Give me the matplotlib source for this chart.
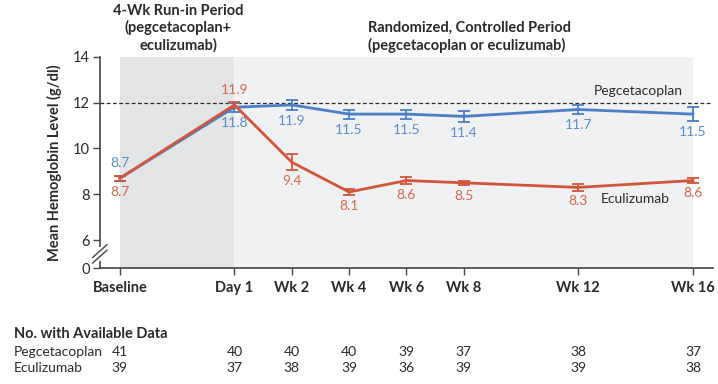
import matplotlib
matplotlib.use("Agg")
import matplotlib.pyplot as plt
from matplotlib.lines import Line2D

plt.rcParams['font.family'] = ['Lato', 'DejaVu Sans']

# weeks relative to day 1 (baseline is 4 weeks before)
weeks = [-4, 0, 2, 4, 6, 8, 12, 16]
tick_labels = ["Baseline", "Day 1", "Wk 2", "Wk 4", "Wk 6", "Wk 8", "Wk 12", "Wk 16"]

peg_mean = [8.7, 11.8, 11.9, 11.5, 11.5, 11.4, 11.7, 11.5]
peg_err = [0.1, 0.2, 0.2, 0.2, 0.2, 0.25, 0.2, 0.3]
ecu_mean = [8.7, 11.9, 9.4, 8.1, 8.6, 8.5, 8.3, 8.6]
ecu_err = [0.1, 0.15, 0.35, 0.15, 0.15, 0.1, 0.15, 0.1]

peg_n = [41, 40, 40, 40, 39, 37, 38, 37]
ecu_n = [39, 37, 38, 39, 36, 39, 39, 38]

BLUE = "#4a7fc6"
RED = "#d2553a"
BLUE_TXT = "#5b8ccc"
RED_TXT = "#d8674c"
DARK = "#2a2a2a"

fig = plt.figure(figsize=(7.18, 3.84), dpi=100)
ax = fig.add_axes([0.139, 0.302, 0.854, 0.55])

y_zero = 4.78  # where the "0" sits below the axis break
ax.set_xlim(-4.7, 16.7)
ax.set_ylim(y_zero, 14)

# shaded periods
ax.axvspan(-4, 0, color="#e3e4e6", lw=0, zorder=0)
ax.axvspan(0, 16, color="#f0f1f3", lw=0, zorder=0)

ax.axhline(12, color=DARK, ls=(0, (3, 2)), lw=0.9, zorder=1)

ax.errorbar(weeks, peg_mean, yerr=peg_err, color=BLUE, lw=2, capsize=4,
            elinewidth=1.3, capthick=1.3, zorder=3)
ax.errorbar(weeks, ecu_mean, yerr=ecu_err, color=RED, lw=2, capsize=4,
            elinewidth=1.3, capthick=1.3, zorder=4)

# value labels
for i, (x, p, e) in enumerate(zip(weeks, peg_mean, ecu_mean)):
    if i == 0:
        ax.text(x, p + 0.4, f"{p}", color=BLUE_TXT, ha="center", va="bottom", fontsize=10)
        ax.text(x, e - 0.35, f"{e}", color=RED_TXT, ha="center", va="top", fontsize=10)
    elif i == 1:
        ax.text(x, e + 0.4, f"{e}", color=RED_TXT, ha="center", va="bottom", fontsize=10)
        ax.text(x, p - 0.42, f"{p}", color=BLUE_TXT, ha="center", va="top", fontsize=10)
    else:
        ax.text(x, p - peg_err[i] - 0.22, f"{p}", color=BLUE_TXT, ha="center", va="top", fontsize=10)
        ax.text(x, e - ecu_err[i] - 0.2, f"{e}", color=RED_TXT, ha="center", va="top", fontsize=10)

ax.text(12.55, 12.25, "Pegcetacoplan", color=DARK, fontsize=10, va="bottom")
ax.text(12.8, 7.8, "Eculizumab", color=DARK, fontsize=10, va="center")

# axes styling
for s in ["top", "right"]:
    ax.spines[s].set_visible(False)
for s in ["left", "bottom"]:
    ax.spines[s].set_color("#444444")
    ax.spines[s].set_linewidth(1.2)

ax.set_yticks([y_zero, 6, 8, 10, 12, 14])
ax.set_yticklabels(["0", "6", "8", "10", "12", "14"], fontsize=10.5, color=DARK)
ax.set_xticks(weeks)
ax.set_xticklabels(tick_labels, fontsize=10.5, fontweight="bold", color=DARK)
ax.tick_params(axis="both", direction="out", length=5, width=1, color="#444444")
ax.tick_params(axis="x", pad=4)
ax.tick_params(axis="y", pad=2)
ax.spines["left"].set_bounds(y_zero, 14)

ax.set_ylabel("Mean Hemoglobin Level (g/dl)", fontsize=10.5, fontweight="bold",
              color=DARK, labelpad=8)

# axis break marks
yb = 5.4
ax.plot([-4.7, -4.7], [yb - 0.22, yb + 0.22], color="white", lw=3,
        clip_on=False, zorder=5)
for dy in (-0.12, 0.12):
    ax.add_line(Line2D([-4.95, -4.45], [yb + dy - 0.28, yb + dy + 0.28], color="#444444",
                       lw=1, clip_on=False, zorder=6))

# period headings
fig.text(0.248, 0.99, "4-Wk Run-in Period\n(pegcetacoplan+\neculizumab)", ha="center",
         va="top", fontsize=10.5, fontweight="bold", color=DARK, linespacing=1.2)
fig.text(0.512, 0.945, "Randomized, Controlled Period\n(pegcetacoplan or eculizumab)",
         ha="left", va="top", fontsize=10.5, fontweight="bold", color=DARK, linespacing=1.2)

# at-risk table
fig.text(0.019, 1 - 334 / 384, "No. with Available Data", fontsize=10.5,
         fontweight="bold", color=DARK, va="center")
for row_y, name, counts in [(352, "Pegcetacoplan", peg_n), (368, "Eculizumab", ecu_n)]:
    fy = 1 - row_y / 384
    fig.text(0.019, fy, name, fontsize=10, color=DARK, va="center")
    for x, n in zip(weeks, counts):
        fx = fig.transFigure.inverted().transform(ax.transData.transform((x, 0)))[0]
        fig.text(fx, fy, str(n), fontsize=10, color=DARK, va="center", ha="center")

fig.savefig("out.png", dpi=100)
